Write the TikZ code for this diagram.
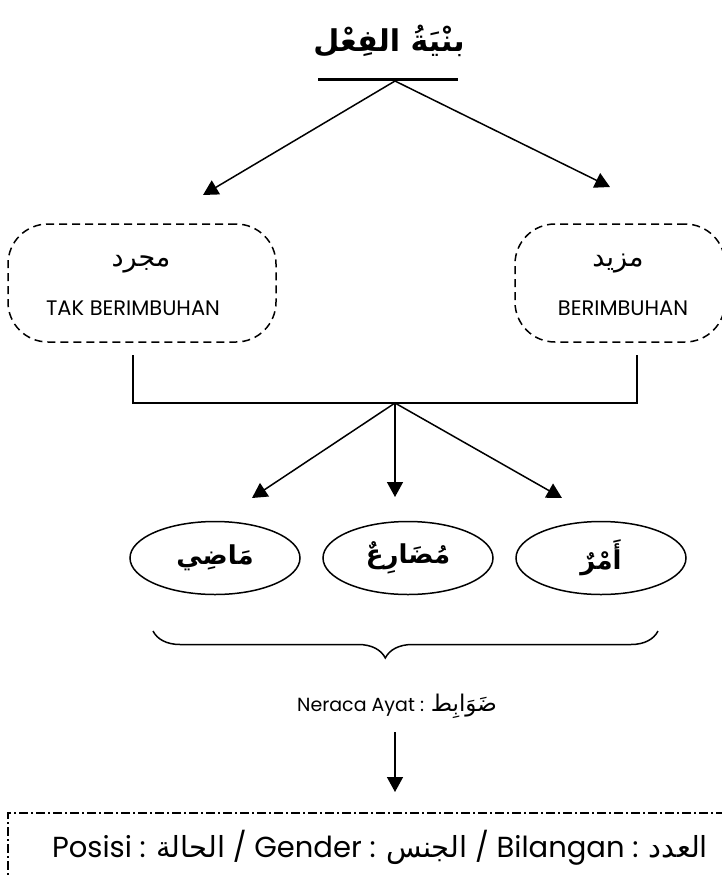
\documentclass[tikz,border=0pt]{standalone}
\usepackage{fontspec}
\setmainfont{Poppins}
\newfontfamily\arabicfont[Script=Arabic]{DejaVu Sans}
\TeXXeTstate=1
\usetikzlibrary{arrows.meta,shapes.geometric,decorations.pathreplacing}
\newcommand{\arabtxt}[1]{{\arabicfont\beginR #1\endR}}

\begin{document}
\begin{tikzpicture}[x=1pt, y=-1pt,
		arr/.style={-{Triangle[length=15pt,width=16pt]}, line width=1.5pt},
		kotak/.style={draw, dash pattern=on 8pt off 5pt, line width=1.5pt, rounded corners=40pt, align=center, inner sep=0pt},
		bulat/.style={draw, ellipse, line width=1.5pt, minimum width=170pt, minimum height=73pt, inner sep=0pt}]
				\useasboundingbox (0,0) rectangle (722,876);
				% judul
				\node (F)at(389, 41) {\fontsize{30}{36}\selectfont\arabicfont\bfseries\beginR بنْيَةُ الفِعْل\endR};
				\draw[line width=3pt] (318,79) -- (458,79);
				\coordinate (top)at(395, 81);
				\coordinate (tl)at(203, 195);
				\coordinate (tr)at(610, 187);
				\draw[arr] (top) -- (tl);
				\draw[arr] (top) -- (tr);
				% mujarrad / mazid
				\node[kotak, minimum width=268pt, minimum height=118pt] (MJ)at(142, 283) {};
				\node[kotak, minimum width=210pt, minimum height=118pt] (MZ)at(620, 283) {};
				\node (MJa)at(141, 264) {\fontsize{27}{30}\selectfont\arabtxt{مجرد}};
				\node (MJb)at(133, 308) {\fontsize{21}{24}\selectfont TAK BERIMBUHAN};
				\node (MZa)at(618, 264) {\fontsize{27}{30}\selectfont\arabtxt{مزيد}};
				\node (MZb)at(623, 308) {\fontsize{21}{24}\selectfont BERIMBUHAN};
				\coordinate (jl)at(133, 355);
				\coordinate (jr)at(637, 355);
				\coordinate (J)at(395, 403);
				\draw[line width=1.5pt] (jl) |- (J) -| (jr);
				% madi / mudari / amr
				\node[bulat] (MD)at(215, 558) {\fontsize{26}{30}\selectfont\arabicfont\bfseries\beginR مَاضِي\endR};
				\node[bulat] (MR)at(408, 558) {\fontsize{26}{30}\selectfont\arabicfont\bfseries\beginR مُضَارِعٌ\endR};
				\node[bulat] (AM)at(601, 558) {\fontsize{26}{30}\selectfont\arabicfont\bfseries\beginR أَمْرٌ\endR};
				\coordinate (b1)at(252, 498);
				\coordinate (b2)at(395, 497);
				\coordinate (b3)at(562, 498);
				\draw[arr] (J) -- (b1);
				\draw[arr] (J) -- (b2);
				\draw[arr] (J) -- (b3);
				\draw[line width=1.5pt, decorate, decoration={brace, mirror, amplitude=27pt, aspect=0.46}] (153,631) -- (658,631);
				% dawabit
				\node (NA)at(397, 706) {\fontsize{19}{22}\selectfont Neraca Ayat : \arabtxt{\fontsize{23}{26}\selectfont ضَوَابِط}};
				\coordinate (na)at(395, 792);
				\draw[arr] (395,732) -- (na);
				% bingkai bawah
				\draw[line width=1.3pt, dash pattern=on 9pt off 3pt on 2pt off 3pt] (725,813) -- (8,813) -- (8,880);
				\node (PO)at(380, 848) {\fontsize{29}{32}\selectfont Posisi : \arabtxt{الحالة} / Gender : \arabtxt{الجنس} / Bilangan : \arabtxt{العدد}};
			\end{tikzpicture}
\end{document}
